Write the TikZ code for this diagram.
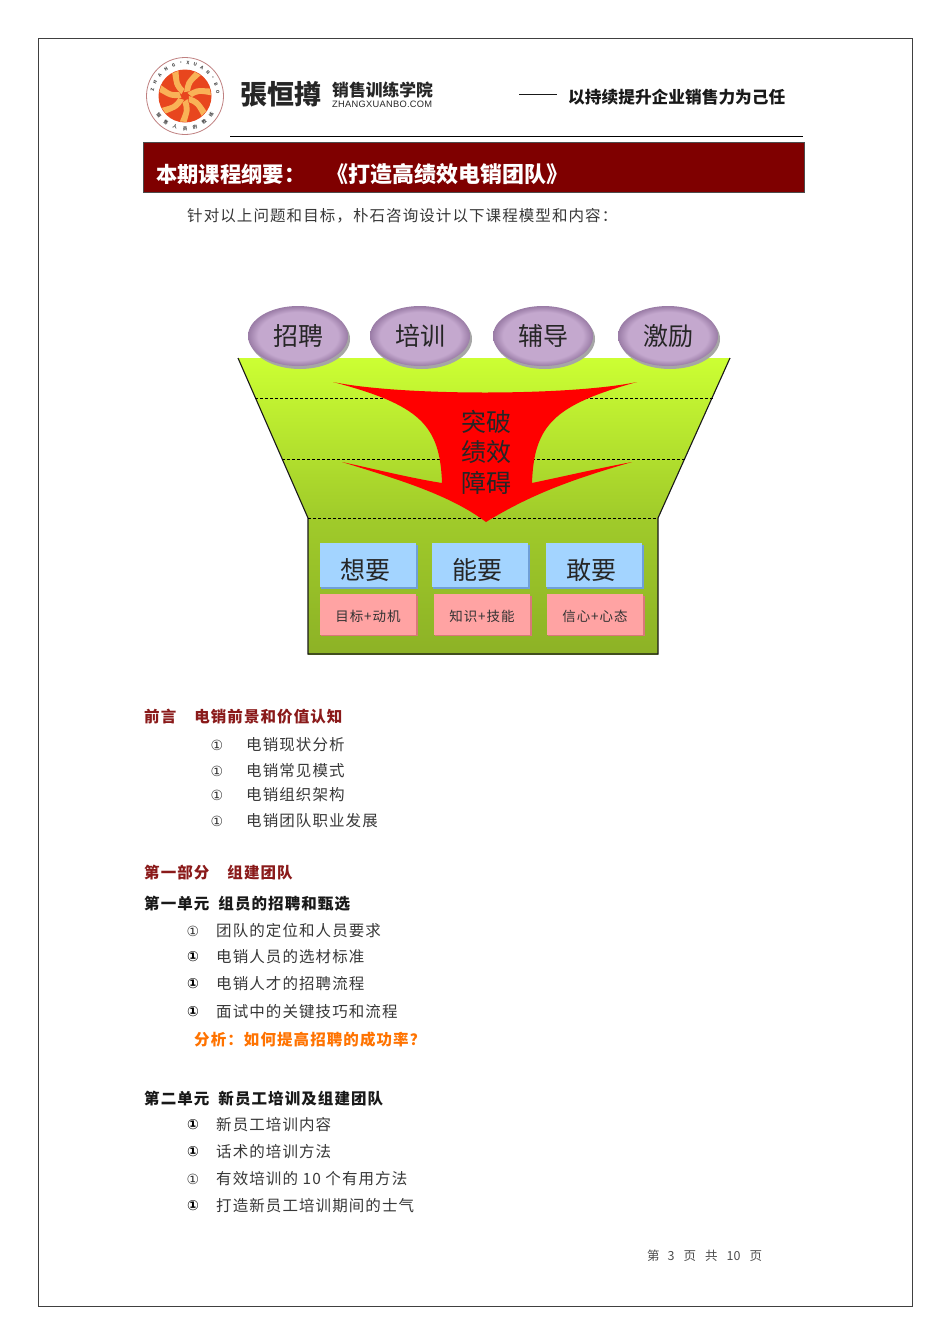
\documentclass[tikz,border=0pt]{standalone}
\usepackage{fontspec}
\setmainfont{Noto Sans CJK SC}
\newfontfamily\djf{DejaVu Sans}
\newfontfamily\libf[LetterSpace=3]{Liberation Sans}
\newfontfamily\spf[LetterSpace=7]{Noto Sans CJK SC}
\usetikzlibrary{shapes.geometric}
\definecolor{dred}{HTML}{7F0000}
\definecolor{hred}{HTML}{8A1A1A}
\definecolor{lime}{HTML}{CCFF33}
\definecolor{limemid}{HTML}{C4F02F}
\definecolor{limelow}{HTML}{A0CB2A}
\definecolor{olmid}{HTML}{6F8F1E}
\definecolor{ollow}{HTML}{8DB226}
\definecolor{purpleish}{HTML}{C4A8CE}
\definecolor{purpledk}{HTML}{9A7CA6}
\definecolor{blueish}{HTML}{A3D4FF}
\definecolor{blueedge}{HTML}{6F9FD8}
\definecolor{pinkish}{HTML}{FFA3A3}
\definecolor{pinkedge}{HTML}{D87878}
\definecolor{sunred}{HTML}{E8461E}
\definecolor{sunorg}{HTML}{F9B257}
\pgfdeclareradialshading{ovalshade}{\pgfpoint{0bp}{0bp}}{color(0bp)=(purpleish); color(20bp)=(purpleish); color(25bp)=(purpledk); color(50bp)=(purpledk)}
\tikzset{
 x=1pt,y=-1pt,
 txt/.style={anchor=west,inner sep=0pt,font=\spf\fontsize{15.5}{15.5}\selectfont,text=black!78},
 head/.style={anchor=west,inner sep=0pt,font=\spf\fontsize{15.5}{15.5}\selectfont\bfseries,text=black!90},
 redhead/.style={head,text=hred},
 bul/.style={anchor=center,inner sep=0pt,font=\fontsize{14}{14}\selectfont\djf,text=black!80},
 bulb/.style={bul,font=\fontsize{14}{14}\selectfont\djf\bfseries,text=black},
 ovalin/.style={ellipse,minimum width=100pt,minimum height=60pt,inner sep=0pt,shading=ovalshade,
   font=\fontsize{25}{25}\selectfont,text=black!85},
 bluebox/.style={inner sep=0pt,minimum width=96pt,minimum height=44pt,fill=blueish},
 pinkbox/.style={inner sep=0pt,minimum width=96pt,minimum height=41pt,fill=pinkish},
 pinktxt/.style={inner sep=0pt,font=\spf\fontsize{13.5}{13.5}\selectfont,text=black!80},
 dline/.style={black,dash pattern=on 3pt off 2pt,line width=.8pt},
 ring/.style={inner sep=0pt,font=\fontsize{4.5}{4.5}\selectfont\bfseries,text=black!70},
 big/.style={inner sep=0pt,font=\fontsize{25}{25}\selectfont,text=black!85},
 bantxt/.style={anchor=west,inner sep=0pt,text=white,font=\fontsize{21.3}{21.3}\selectfont\bfseries},
}
\begin{document}
\begin{tikzpicture}
\useasboundingbox (0,0) rectangle (950,1344);
\fill[white] (0,0) rectangle (950,1344);
\node[draw=black!75,line width=.7pt,minimum width=874pt,minimum height=1268pt,inner sep=0pt,anchor=north west] (frame) at (38,38) {};
% logo
\fill[white,draw=red!50!black!50,line width=.8pt] (185,96) circle (38.5);
\fill[sunred] (185,96) circle (26.5);
\begin{scope}[shift={(185,96)}]
\foreach \a in {0,51.4,102.8,154.2,205.6,257,308.4}{
 \fill[sunorg] (\a:4) .. controls (\a+15:14) .. (\a+35:26) -- (\a+50:26) .. controls (\a+40:14) .. (\a+60:7) -- cycle;
}
\foreach \a/\c in {-170/Z,-155/H,-140/A,-125/N,-110/G,-97/·,-85/X,-72/U,-59/A,-46/N,-33/·,-20/B,-7/O}{
 \node[ring,rotate={-(\a+90)}] at (\a:33) {\c};
}
\foreach \a/\c in {144/销,126/售,108/人,90/员,72/的,54/教,36/练}{
 \node[ring,rotate={90-\a}] at (\a:32.5) {\c};
}
\end{scope}
\node[inner sep=0pt,font=\fontsize{27}{27}\selectfont\bfseries,text=black!85] (brand) at (281,94) {張恒撙};
\node[anchor=west,inner sep=0pt,font=\fontsize{16.8}{16.8}\selectfont\bfseries,text=black!85] (acad) at (332,90) {销售训练学院};
\node[anchor=west,inner sep=0pt,font=\libf\fontsize{9.3}{9.3}\selectfont,text=black!85] (url) at (332,104) {ZHANGXUANBO.COM};
\node[anchor=west,inner sep=0pt,font=\fontsize{19}{19}\selectfont,text=black!90] (sdash) at (519,97) {\rule[.3em]{38pt}{.9pt}};
\node[anchor=west,inner sep=0pt,font=\fontsize{16.7}{16.7}\selectfont\bfseries,text=black!90] (slogan) at (568,97) {以持续提升企业销售力为己任};
\coordinate (ruleA) at (230,136.5); \coordinate (ruleB) at (803,136.5);
\draw[line width=1.8pt,black] (ruleA) -- (ruleB);
% banner
\node[fill=dred,draw=black!70,line width=.5pt,minimum width=661pt,minimum height=50pt,inner sep=0pt,anchor=north west] (banner) at (143,142) {};
\node[bantxt] (b1) at (156,174) {本期课程纲要：};
\node[bantxt,font=\fontsize{22}{22}\selectfont\bfseries] (b2) at (326,174) {《打造高绩效电销团队》};
\node[txt] (intro) at (187,216) {针对以上问题和目标，朴石咨询设计以下课程模型和内容：};
% funnel
\shade[top color=lime,middle color=limemid,bottom color=limelow] (238,358) -- (730,358) -- (658,518) -- (308,518) -- cycle;
\shade[top color=limelow,middle color=olmid,bottom color=ollow] (308,518) rectangle (658,654);
\draw[line width=1.1pt,black!90] (238,358) -- (308,518) -- (308,654) -- (658,654) -- (658,518) -- (730,358);
\draw[dline,line width=.6pt] (255,398) -- (713,398);
\draw[dline] (282,459) -- (685,459);
\draw[dline,line width=.6pt] (308,518) -- (658,518);
% arrow
\fill[red] (333,382) .. controls (400,396) and (570,396) .. (637,382)
  .. controls (554,405) and (534,425) .. (532,483)
  .. controls (570,475) and (600,468) .. (632,462)
  .. controls (570,480) and (530,495) .. (486,522)
  .. controls (450,495) and (400,480) .. (342,462)
  .. controls (370,468) and (410,478) .. (442,483)
  .. controls (440,425) and (420,405) .. (333,382) -- cycle;
\node[big] (t1) at (486,422) {突破};
\node[big] (t2) at (486,452) {绩效};
\node[big] (t3) at (486,483) {障碍};
% ovals
\foreach \n/\x/\t in {o1/298/招聘,o2/420/培训,o3/543/辅导,o4/668/激励}{
 \fill[black!35] (\x+2,339) ellipse (50 and 30);
 \node[ovalin] (\n) at (\x,336) {\t};
}
% blue / pink
\foreach \n/\x/\t in {b1x/368/想要,b2x/480/能要,b3x/594/敢要}{
 \fill[blueedge] (\x-47,545) rectangle (\x+49.5,588.5);
 \node[bluebox] (\n) at (\x,565) {};
 \node[big] (\n t) at (\x-3,570) {\t};
}
\foreach \n/\x/\t in {p1/368/目标+动机,p2/482/知识+技能,p3/595/信心+心态}{
 \fill[pinkedge] (\x-47,596) rectangle (\x+49.5,636);
 \node[pinkbox] (\n) at (\x,614) {};
 \node[pinktxt] (\n t) at (\x,616) {\t};
}
% text
\node[redhead] (s0) at (144,717) {前言\hspace{18pt}电销前景和价值认知};
\foreach \n/\y/\t in {a1/745/电销现状分析,a2/771/电销常见模式,a3/795/电销组织架构,a4/821/电销团队职业发展}{
 \node[bul] (\n b) at (217,\y) {①};
 \node[txt] (\n) at (246,\y) {\t};
}
\node[redhead] (s1) at (144,873) {第一部分\hspace{18pt}组建团队};
\node[head] (u1) at (144,904) {第一单元\hspace{9pt}组员的招聘和甄选};
\node[bul] (c1b) at (193,931) {①};
\node[txt] (c1) at (216,931) {团队的定位和人员要求};
\foreach \n/\y/\t in {c2/957/电销人员的选材标准,c3/984/电销人才的招聘流程,c4/1012/面试中的关键技巧和流程}{
 \node[bulb] (\n b) at (193,\y) {①};
 \node[txt] (\n) at (216,\y) {\t};
}
\node[head,text=orange!90!red] (an) at (194,1040) {分析：如何提高招聘的成功率？};
\node[head] (u2) at (144,1099) {第二单元\hspace{9pt}新员工培训及组建团队};
\foreach \n/\y/\t in {d1/1125/新员工培训内容,d2/1152/话术的培训方法,d4/1206/打造新员工培训期间的士气}{
 \node[bulb] (\n b) at (193,\y) {①};
 \node[txt] (\n) at (216,\y) {\t};
}
\node[bul] (d3b) at (193,1179) {①};
\node[txt] (d3) at (216,1179) {有效培训的 10 个有用方法};
\node[anchor=west,inner sep=0pt,font=\fontsize{12.5}{12.5}\selectfont,text=black!70] (pg) at (647,1256) {第\hspace{8pt}3\hspace{9pt}页\hspace{9pt}共\hspace{9pt}10\hspace{9pt}页};
\end{tikzpicture}
\end{document}
